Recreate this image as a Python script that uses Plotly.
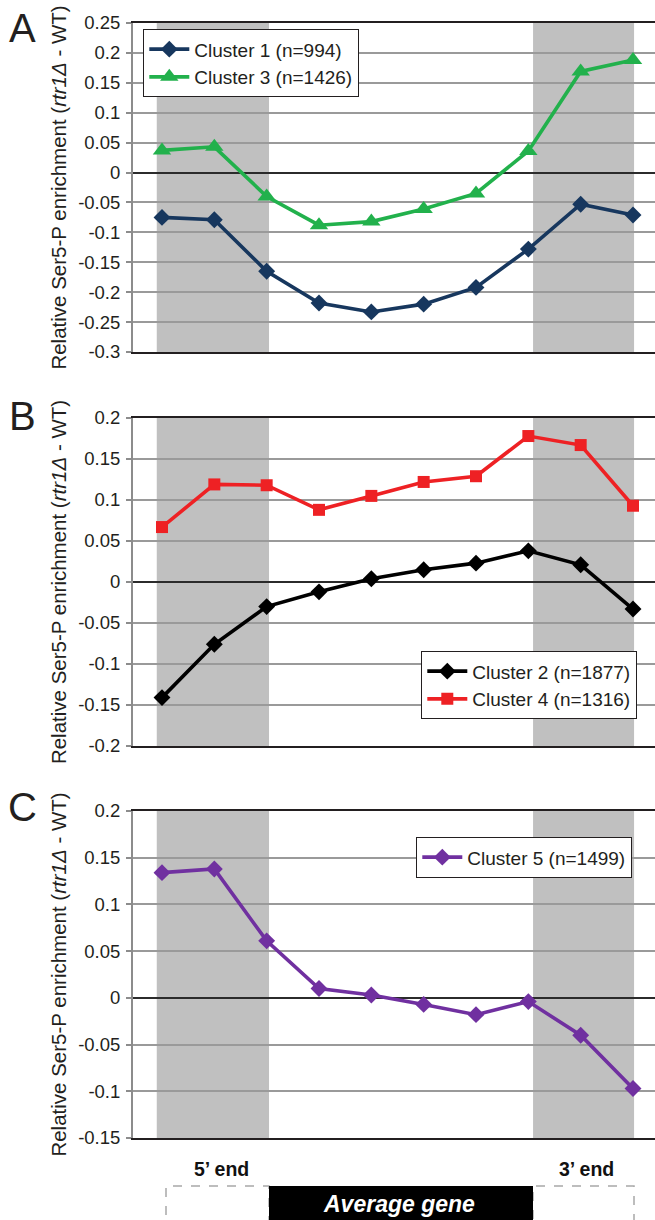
import plotly.graph_objects as go

# ---------------- data ----------------
bins = [1, 2, 3, 4, 5, 6, 7, 8, 9, 10]

cluster1 = [-0.075, -0.079, -0.165, -0.218, -0.233, -0.220, -0.192, -0.128, -0.053, -0.071]
cluster3 = [0.037, 0.043, -0.040, -0.088, -0.082, -0.061, -0.035, 0.036, 0.169, 0.188]
cluster2 = [-0.141, -0.076, -0.030, -0.012, 0.004, 0.015, 0.023, 0.038, 0.021, -0.033]
cluster4 = [0.067, 0.119, 0.118, 0.088, 0.105, 0.122, 0.129, 0.178, 0.167, 0.093]
cluster5 = [0.134, 0.138, 0.061, 0.010, 0.003, -0.007, -0.018, -0.004, -0.040, -0.097]

ticks_a = [0.25, 0.2, 0.15, 0.1, 0.05, 0, -0.05, -0.1, -0.15, -0.2, -0.25, -0.3]
ticks_b = [0.2, 0.15, 0.1, 0.05, 0, -0.05, -0.1, -0.15, -0.2]
ticks_c = [0.2, 0.15, 0.1, 0.05, 0, -0.05, -0.1, -0.15]

labels_a = ["0.25", "0.2", "0.15", "0.1", "0.05", "0", "-0.05", "-0.1", "-0.15", "-0.2", "-0.25", "-0.3"]
labels_b = ["0.2", "0.15", "0.1", "0.05", "0", "-0.05", "-0.1", "-0.15", "-0.2"]
labels_c = ["0.2", "0.15", "0.1", "0.05", "0", "-0.05", "-0.1", "-0.15"]

names = {
    "c1": "Cluster 1 (n=994)",
    "c3": "Cluster 3 (n=1426)",
    "c2": "Cluster 2 (n=1877)",
    "c4": "Cluster 4 (n=1316)",
    "c5": "Cluster 5 (n=1499)",
}

# ---------------- figure ----------------
W, H = 655, 1220
FONT = "Liberation Sans, Arial, sans-serif"

def py(px):
    return 1 - px / H

fig = go.Figure()

def add_line(y, name, color, symbol, msize, xa, ya, legend):
    fig.add_trace(go.Scatter(
        x=bins, y=y, name=name, mode="lines+markers",
        line=dict(color=color, width=3.6),
        marker=dict(symbol=symbol, size=msize, color=color),
        xaxis=xa, yaxis=ya, legend=legend,
    ))

add_line(cluster1, names["c1"], "#17375E", "diamond", 13, "x", "y", "legend")
add_line(cluster3, names["c3"], "#22B14C", "triangle-up", 16, "x", "y", "legend")
add_line(cluster2, names["c2"], "#000000", "diamond", 13, "x2", "y2", "legend2")
add_line(cluster4, names["c4"], "#EE2124", "square", 12, "x2", "y2", "legend2")
add_line(cluster5, names["c5"], "#7030A0", "diamond", 13, "x3", "y3", "legend3")

xdom = [133 / W, 1.0]
xrange = [0.446, 10.42]
ydoms = {
    "": [py(352), py(23)],
    "2": [py(746), py(418)],
    "3": [py(1138), py(811)],
}
yranges = {"": [-0.3, 0.25], "2": [-0.2, 0.2], "3": [-0.15, 0.2]}
ytv = {"": (ticks_a, labels_a), "2": (ticks_b, labels_b), "3": (ticks_c, labels_c)}

title_text = "Relative Ser5-P enrichment (<i>rtr1Δ</i> - WT)"

layout = dict(
    width=W, height=H,
    margin=dict(l=0, r=0, t=0, b=0, autoexpand=False),
    paper_bgcolor="white", plot_bgcolor="white",
    font=dict(family=FONT, color="#231F20"),
    showlegend=True,
)

for s in ["", "2", "3"]:
    layout["xaxis" + s] = dict(
        domain=xdom, range=xrange, anchor="y" + s, automargin=False,
        showticklabels=False, ticks="", showgrid=False, zeroline=False,
        showline=True, linecolor="#231F20", linewidth=2, mirror=True,
    )
    tv, tt = ytv[s]
    layout["yaxis" + s] = dict(
        domain=ydoms[s], range=yranges[s], anchor="x" + s, automargin=False,
        tickvals=tv, ticktext=tt,
        tickfont=dict(size=18.5, family=FONT, color="#231F20"),
        ticks="outside", ticklen=5, tickcolor="#8C8C8C", tickwidth=1.5,
        ticklabelstandoff=2,
        showgrid=True, gridcolor="#9A9A9A", gridwidth=1.6,
        zeroline=True, zerolinecolor="#2B2B2B", zerolinewidth=2.2,
        showline=True, linecolor="#8C8C8C", linewidth=2,
        title=dict(text=title_text, font=dict(size=20.5, family=FONT, color="#231F20"), standoff=6),
    )

legend_common = dict(
    bgcolor="white", bordercolor="#231F20", borderwidth=1.3,
    font=dict(size=19, family=FONT, color="#231F20"),
    xanchor="left", yanchor="top", itemwidth=40, tracegroupgap=0,
)
layout["legend"] = dict(legend_common, x=143 / W, y=py(29))
layout["legend2"] = dict(legend_common, x=421 / W, y=py(651))
layout["legend3"] = dict(legend_common, x=416 / W, y=py(837))

fig.update_layout(**layout)

# gray shaded 5' and 3' regions
for s in ["", "2", "3"]:
    for x0, x1 in [(0.9, 3.045), (8.09, 10.02)]:
        fig.add_shape(type="rect", xref="x" + s, yref="y" + s + " domain",
                      x0=x0, x1=x1, y0=0, y1=1, fillcolor="#C0C0C0",
                      line=dict(width=0), layer="below")

# panel letters
for letter, ycen in [("A", 28), ("B", 416), ("C", 807)]:
    fig.add_annotation(text=letter, x=22 / W, y=py(ycen), xref="paper", yref="paper",
                       showarrow=False, xanchor="center", yanchor="middle",
                       font=dict(size=40, family=FONT, color="#231F20"))

# average gene diagram
fig.add_shape(type="rect", xref="paper", yref="paper",
              x0=166 / W, x1=269 / W, y0=py(1230), y1=py(1186),
              line=dict(color="#A8A8A8", width=1.5, dash="dash"), fillcolor="rgba(0,0,0,0)")
fig.add_shape(type="rect", xref="paper", yref="paper",
              x0=533 / W, x1=634 / W, y0=py(1230), y1=py(1186),
              line=dict(color="#A8A8A8", width=1.5, dash="dash"), fillcolor="rgba(0,0,0,0)")
fig.add_shape(type="rect", xref="paper", yref="paper",
              x0=269 / W, x1=533 / W, y0=py(1230), y1=py(1186),
              line=dict(width=0), fillcolor="#000000")
fig.add_annotation(text="<b><i>Average gene</i></b>", x=399 / W, y=py(1204),
                   xref="paper", yref="paper", showarrow=False,
                   xanchor="center", yanchor="middle",
                   font=dict(size=23, family=FONT, color="white"))
fig.add_annotation(text="<b>5’ end</b>", x=221 / W, y=py(1169),
                   xref="paper", yref="paper", showarrow=False,
                   xanchor="center", yanchor="middle",
                   font=dict(size=19.5, family=FONT, color="#111111"))
fig.add_annotation(text="<b>3’ end</b>", x=586 / W, y=py(1169),
                   xref="paper", yref="paper", showarrow=False,
                   xanchor="center", yanchor="middle",
                   font=dict(size=19.5, family=FONT, color="#111111"))

fig.write_html(
    "out.html",
    config={"displayModeBar": False},
    post_script="document.body.style.margin='0';document.body.style.padding='0';"
                "document.body.style.overflow='hidden';",
)
